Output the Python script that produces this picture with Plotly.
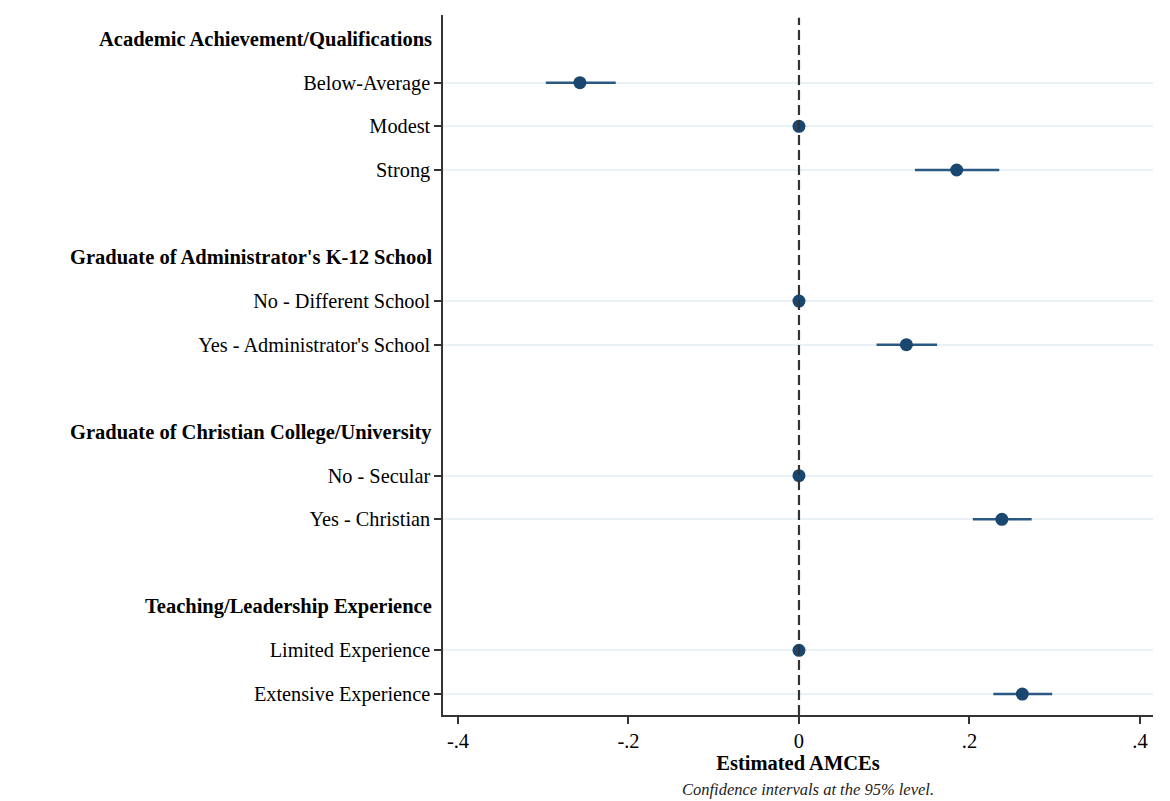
import plotly.graph_objects as go

# Rows (top to bottom); headers are group titles
rows = ["Academic Achievement/Qualifications", "Below-Average", "Modest", "Strong", "",
        "Graduate of Administrator's K-12 School", "No - Different School", "Yes - Administrator's School", "",
        "Graduate of Christian College/University", "No - Secular", "Yes - Christian", "",
        "Teaching/Leadership Experience", "Limited Experience", "Extensive Experience"]
headers = ["Academic Achievement/Qualifications", "Graduate of Administrator's K-12 School",
           "Graduate of Christian College/University", "Teaching/Leadership Experience"]

items = ["Below-Average", "Modest", "Strong",
         "No - Different School", "Yes - Administrator's School",
         "No - Secular", "Yes - Christian",
         "Limited Experience", "Extensive Experience"]
estimates = [-0.257, 0.0, 0.185, 0.0, 0.126, 0.0, 0.238, 0.0, 0.262]
ci_low = [-0.297, 0.0, 0.136, 0.0, 0.091, 0.0, 0.204, 0.0, 0.228]
ci_high = [-0.215, 0.0, 0.235, 0.0, 0.162, 0.0, 0.273, 0.0, 0.297]

x_ticks = [-0.4, -0.2, 0, 0.2, 0.4]
x_ticklabels = ["-.4", "-.2", "0", ".2", ".4"]

row_pos = {name: i for i, name in enumerate(rows) if name}
item_y = [row_pos[n] for n in items]

navy = "#1a476f"
font = "Liberation Serif, Times New Roman, serif"

fig = go.Figure()
fig.add_trace(go.Scatter(
    x=estimates, y=item_y, mode="markers",
    marker=dict(color=navy, size=13),
    error_x=dict(type="data", symmetric=False,
                 array=[h - e for h, e in zip(ci_high, estimates)],
                 arrayminus=[e - l for e, l in zip(estimates, ci_low)],
                 color="#2b5883", thickness=2.5, width=0),
    showlegend=False, hoverinfo="skip"))

fig.add_shape(type="line", xref="x", yref="paper", x0=0, x1=0, y0=0, y1=0.996,
              line=dict(color="#333333", width=2.2, dash="10px,5px"), layer="above")

for h in headers:
    fig.add_annotation(x=0, xref="paper", xanchor="right", xshift=-9,
                       y=row_pos[h], yref="y", yanchor="middle",
                       text="<b>" + h + "</b>", showarrow=False,
                       font=dict(family=font, size=20.5, color="black"))

fig.add_annotation(x=0.514, xref="paper", y=-0.106, yref="paper", yanchor="middle",
                   text="<i>Confidence intervals at the 95% level.</i>", showarrow=False,
                   font=dict(family=font, size=16.5, color="#222222"))

fig.update_layout(
    width=1162, height=793,
    margin=dict(l=435, r=17, t=7, b=86),
    paper_bgcolor="white", plot_bgcolor="white",
    font=dict(family=font, size=20, color="black"),
    xaxis=dict(range=[-0.4176, 0.4153], tickvals=x_ticks, ticktext=x_ticklabels,
               showgrid=False, zeroline=False, showline=True, linecolor="#333333", linewidth=1.5,
               ticks="outside", ticklen=7, tickwidth=1.5, tickcolor="#333333",
               tickfont=dict(family=font, size=20.5),
               title=dict(text="<b>Estimated AMCEs</b>", font=dict(family=font, size=20.5), standoff=2)),
    yaxis=dict(range=[15.48, -0.55], tickvals=item_y, ticktext=items,
               showgrid=True, gridcolor="#eaf1f4", gridwidth=1.5,
               zeroline=False, showline=True, linecolor="#333333", linewidth=1.5,
               ticks="outside", ticklen=7, tickwidth=1.5, tickcolor="#333333",
               tickfont=dict(family=font, size=20.3)),
)

fig.write_html("out.html")
